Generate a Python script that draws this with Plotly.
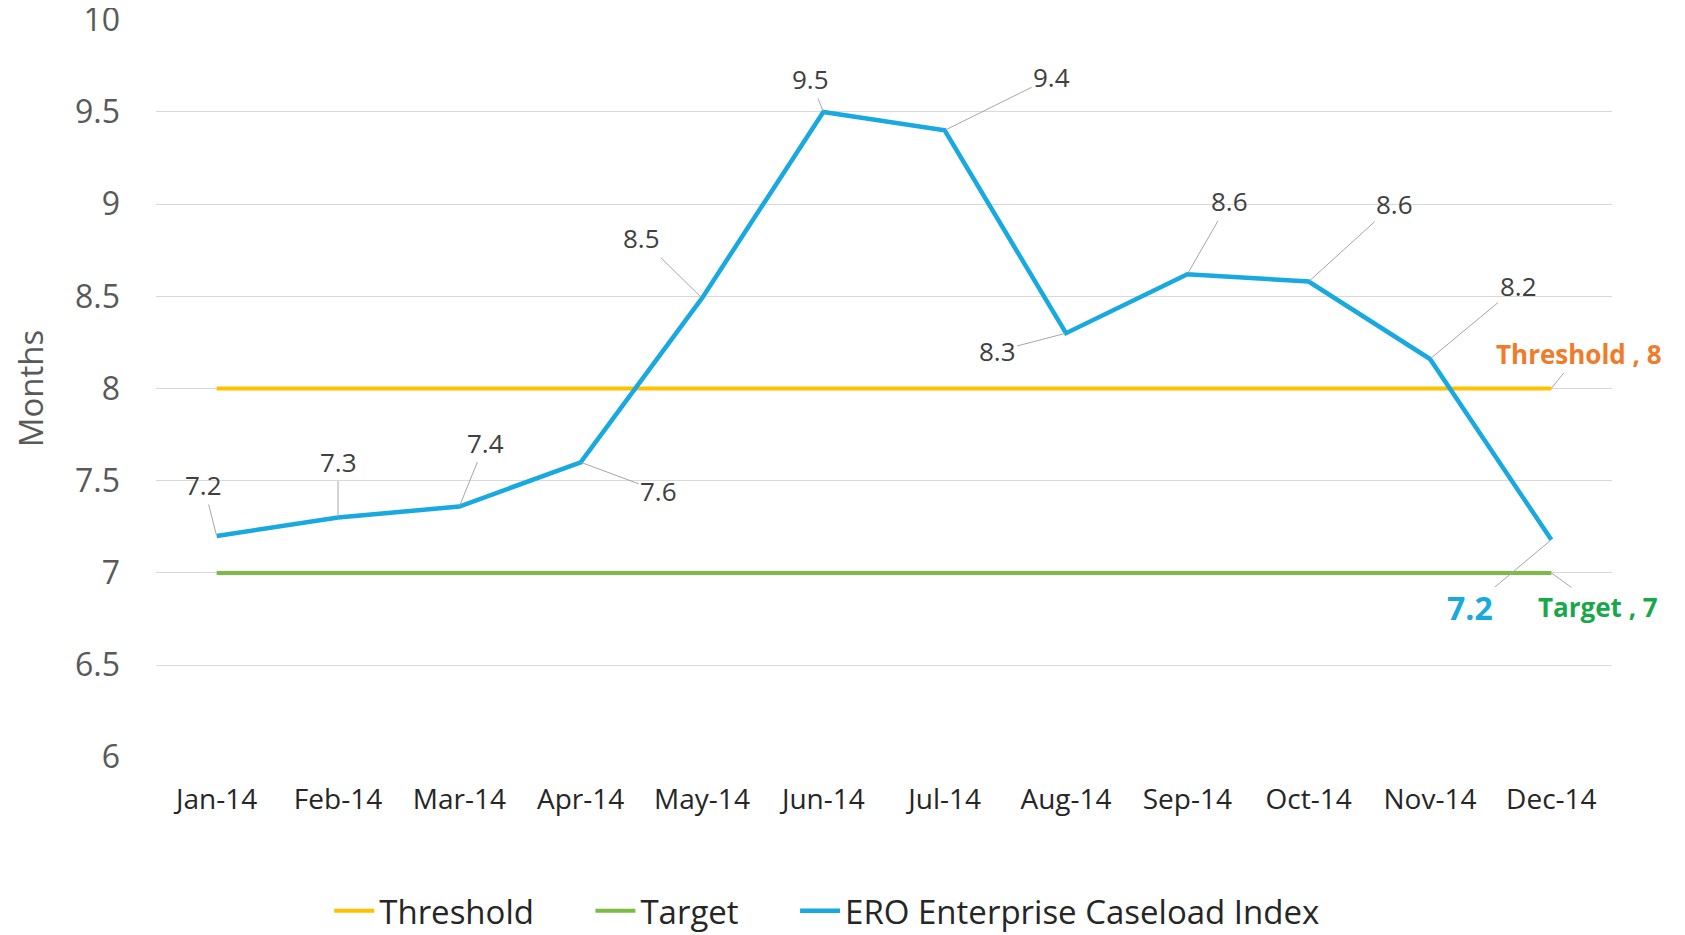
import plotly.graph_objects as go

months = ["Jan-14", "Feb-14", "Mar-14", "Apr-14", "May-14", "Jun-14",
          "Jul-14", "Aug-14", "Sep-14", "Oct-14", "Nov-14", "Dec-14"]
caseload = [7.2, 7.3, 7.36, 7.6, 8.49, 9.5, 9.4, 8.3, 8.62, 8.58, 8.16, 7.18]
threshold = [8, 8, 8, 8, 8, 8, 8, 8, 8, 8, 8, 8]
target = [7, 7, 7, 7, 7, 7, 7, 7, 7, 7, 7, 7]
y_ticks = [6, 6.5, 7, 7.5, 8, 8.5, 9, 9.5, 10]
series_names = ["Threshold", "Target", "ERO Enterprise Caseload Index"]

# label offsets in pixels (text centre relative to the point)
label_offsets = [(-13, -51), (0, -56), (26, -64), (78, 29), (-61, -60), (-13, -33),
                 (107, -53), (-69, 18), (42, -73), (86, -78), (88, -73), (-81, 68)]

BLUE = "#17A9DF"
PAD = "\u00a0" * 6
fig = go.Figure()
fig.add_trace(go.Scatter(x=months, y=threshold, name=series_names[0] + PAD, mode="lines",
                         line=dict(color="#FFC000", width=4)))
fig.add_trace(go.Scatter(x=months, y=target, name=series_names[1] + PAD, mode="lines",
                         line=dict(color="#7CBB44", width=4)))
fig.add_trace(go.Scatter(x=months, y=caseload, name=series_names[2],
                         mode="lines", line=dict(color=BLUE, width=4.5)))

annos = []
for i, (m, v) in enumerate(zip(months, caseload)):
    dx, dy = label_offsets[i]
    last = i == len(months) - 1
    annos.append(dict(
        x=m, y=v, xref="x", yref="y", text=f"{v:.1f}",
        showarrow=True, arrowhead=0, arrowwidth=1, arrowcolor="#A6A6A6",
        ax=dx, ay=dy, standoff=1,
        font=dict(family="Open Sans", size=32 if last else 26,
                  color=BLUE if last else "#404040",
                  weight="bold" if last else "normal"),
    ))
annos.append(dict(x=months[-1], y=threshold[-1], xref="x", yref="y",
                  text=f"Threshold , {threshold[-1]}", showarrow=True, arrowhead=0,
                  arrowwidth=1, arrowcolor="#A6A6A6", ax=28, ay=-35,
                  font=dict(family="Open Sans", size=26, color="#F07B2A", weight="bold")))
annos.append(dict(x=months[-1], y=target[-1], xref="x", yref="y",
                  text=f"Target , {target[-1]}", showarrow=True, arrowhead=0,
                  arrowwidth=1, arrowcolor="#A6A6A6", ax=47, ay=34,
                  font=dict(family="Open Sans", size=26, color="#17A84B", weight="bold")))

# page body adds an 8px offset, so the figure is sized/placed to compensate
fig.update_layout(
    width=1677, height=927,
    paper_bgcolor="white", plot_bgcolor="white",
    margin=dict(l=148, r=73, t=11, b=177),
    showlegend=True,
    legend=dict(orientation="h", x=0.461, xanchor="center",
                yref="container", y=0.026, yanchor="middle",
                font=dict(family="Open Sans", size=33, color="#262626"),
                itemwidth=40),
    annotations=annos,
)
fig.update_xaxes(
    type="category", range=[-0.5, 11.5], showgrid=False, showline=False,
    tickfont=dict(family="Open Sans", size=28, color="#262626"),
    ticklabelstandoff=22, zeroline=False, automargin=False,
)
fig.update_yaxes(
    range=[5.996, 10.004], tickvals=y_ticks, ticktext=[f"{t:g}" for t in y_ticks],
    showgrid=True, gridcolor="#D9D9D9", gridwidth=1, zeroline=False,
    tickfont=dict(family="Open Sans", size=32, color="#595959"),
    ticklabelstandoff=35, automargin=False, ticklabeloverflow="allow",
    title=dict(text="Months", font=dict(family="Open Sans", size=33,
                                        color="#595959"), standoff=26),
)
fig.write_html("out.html")
